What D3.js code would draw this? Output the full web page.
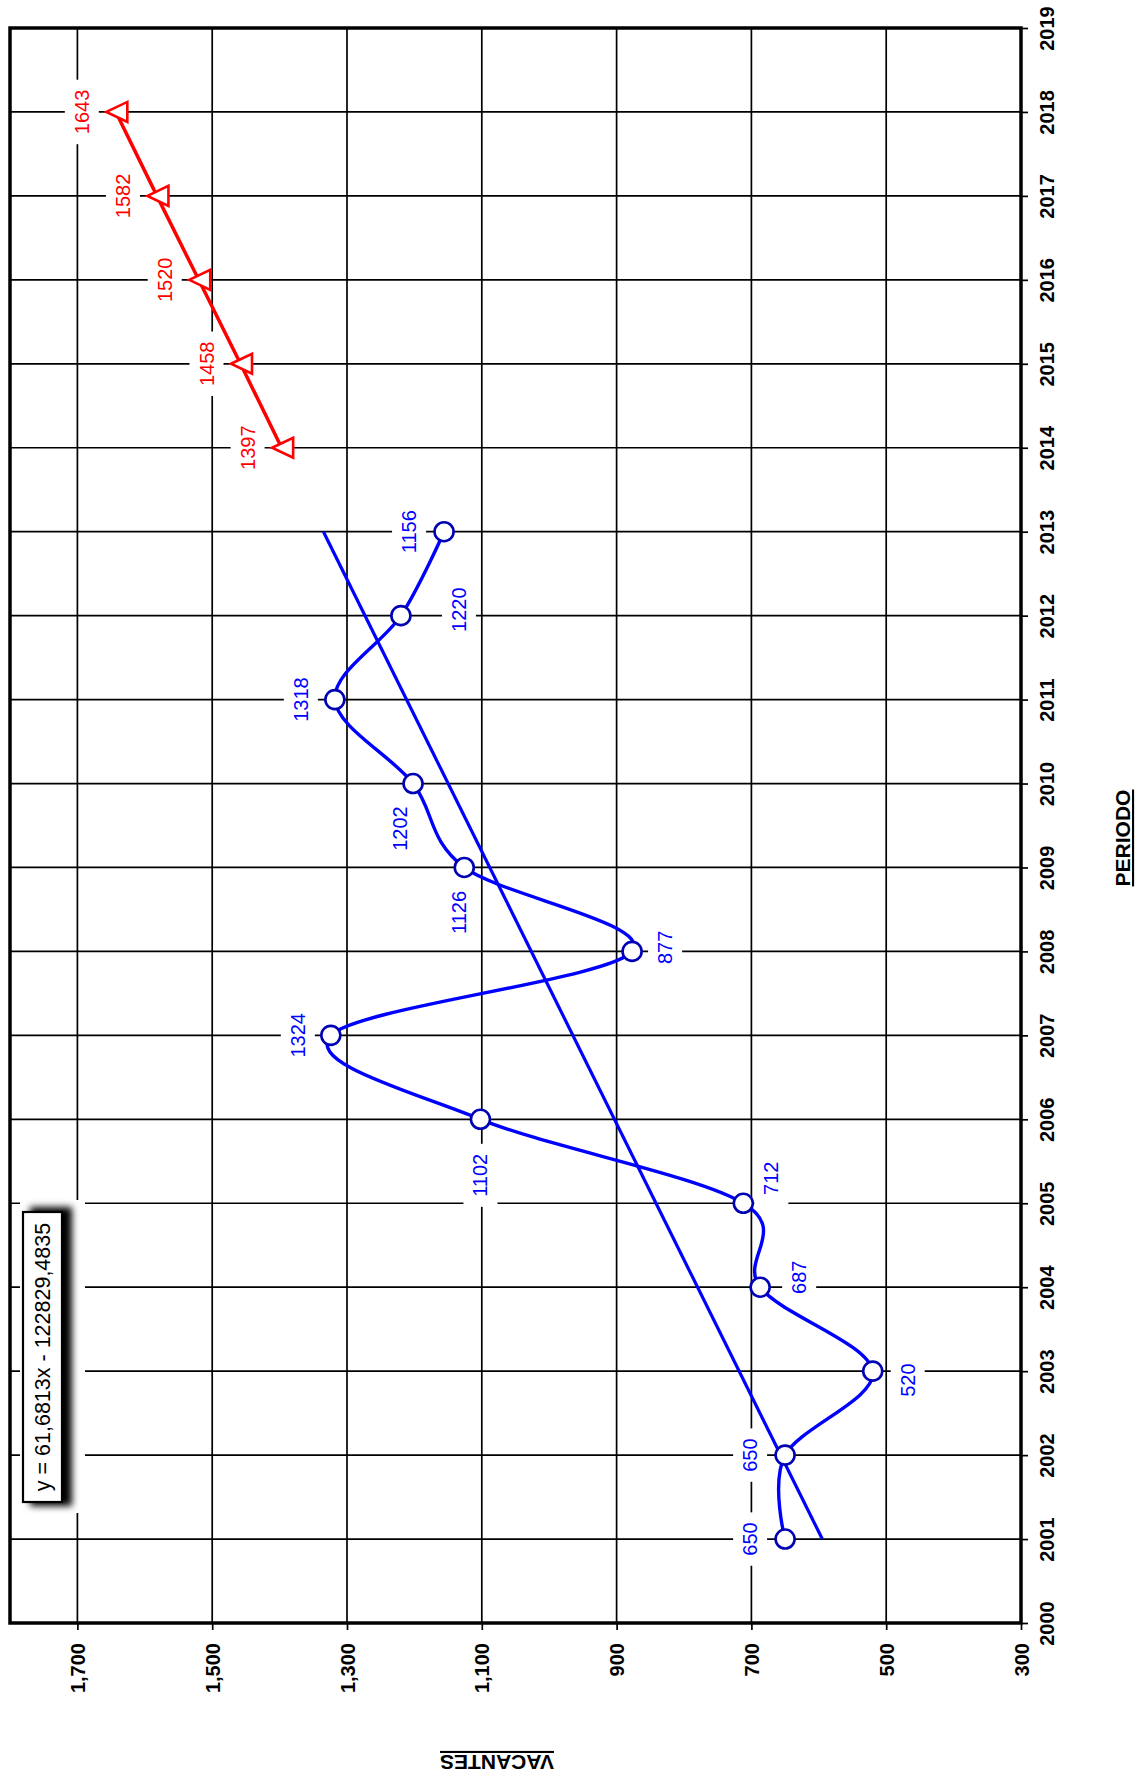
<!DOCTYPE html>
<html lang="es">
<head>
<meta charset="UTF-8">
<title>Vacantes por periodo</title>
<script src="https://d3js.org/d3.v7.min.js"></script>
<style>
  body { margin: 0; background: #fff; }
  svg { display: block; }
</style>
</head>
<body>
<div id="chart"></div>
<script>
// vacantes reales 2001-2013
var anios = [2001, 2002, 2003, 2004, 2005, 2006, 2007, 2008, 2009, 2010, 2011, 2012, 2013];
var vacantes = [650, 650, 520, 687, 712, 1102, 1324, 877, 1126, 1202, 1318, 1220, 1156];

// proyeccion 2014-2018
var aniosProy = [2014, 2015, 2016, 2017, 2018];
var vacantesProy = [1397, 1458, 1520, 1582, 1643];

// recta de tendencia (Excel)
var pendiente = 61.6813;
var intercepto = -122829.4835;
var ecuacion = "y = 61,6813x - 122829,4835";

// ejes
var ticksAnios = [2000, 2001, 2002, 2003, 2004, 2005, 2006, 2007, 2008, 2009,
                  2010, 2011, 2012, 2013, 2014, 2015, 2016, 2017, 2018, 2019];
var ticksVacantes = [300, 500, 700, 900, 1100, 1300, 1500, 1700];

// desplazamiento de las etiquetas (px en pantalla)
var desplReal = [[-35, 0], [-35, 0], [35, 9], [39, -10], [28, -25], [0, 56], [-33, 0],
                 [33, -4], [-5, 45], [-13, 45], [-34, 0], [58, -6], [-35, 0]];
var desplProy = [[-34, 0], [-34, 0], [-34, 0], [-34, 0], [-34, 0]];

var width = 1141, height = 1776;
var mIzq = 10, mDer = 1021, mSup = 28, mInf = 1623;
var narrow = "'Liberation Sans Narrow', 'Arial Narrow', sans-serif";
var azul = "#0000ff", azulMarca = "#0000b4", rojo = "#ff0000";

var svg = d3.select("#chart").append("svg")
    .attr("width", width)
    .attr("height", height);

// el grafico esta girado: vacantes en horizontal (crece a la izquierda), anios en vertical
var x = d3.scaleLinear().domain([300, 1800]).range([mDer, mIzq]);
var y = d3.scaleLinear().domain([2000, 2019]).range([mInf, mSup]);

var defs = svg.append("defs");
defs.append("filter").attr("id", "sombra")
    .attr("x", "-50%").attr("y", "-10%").attr("width", "200%").attr("height", "120%")
  .append("feGaussianBlur").attr("stdDeviation", 3.5);

// rejilla
svg.append("g").selectAll("line")
    .data(ticksVacantes)
    .enter().append("line")
    .attr("x1", function(d) { return x(d); })
    .attr("x2", function(d) { return x(d); })
    .attr("y1", mSup)
    .attr("y2", mInf)
    .attr("stroke", "#000")
    .attr("stroke-width", 1.7);

svg.append("g").selectAll("line")
    .data(ticksAnios)
    .enter().append("line")
    .attr("x1", mIzq)
    .attr("x2", mDer)
    .attr("y1", function(d) { return y(d); })
    .attr("y2", function(d) { return y(d); })
    .attr("stroke", "#000")
    .attr("stroke-width", 1.7);

var real = anios.map(function(a, i) { return { anio: a, v: vacantes[i], d: desplReal[i] }; });
var proy = aniosProy.map(function(a, i) { return { anio: a, v: vacantesProy[i], d: desplProy[i] }; });

// etiquetas con fondo blanco
var gFondos = svg.append("g");

// cuadro de la ecuacion
var gEc = svg.append("g");
gEc.append("rect").attr("x", 20).attr("y", 1200).attr("width", 65).attr("height", 313).attr("fill", "#fff");
gEc.append("rect").attr("x", 30).attr("y", 1207).attr("width", 42).attr("height", 299)
    .attr("fill", "#000").attr("filter", "url(#sombra)");
gEc.append("rect").attr("x", 23).attr("y", 1212).attr("width", 39).attr("height", 290)
    .attr("fill", "#fff").attr("stroke", "#000").attr("stroke-width", 2.2);
gEc.append("text")
    .attr("transform", "translate(42,1357) rotate(-90)")
    .attr("text-anchor", "middle")
    .attr("dy", "0.35em")
    .style("font-family", "'Liberation Sans', Arial, sans-serif")
    .style("font-size", "21.5px")
    .text(ecuacion);

var gSeries = svg.append("g");
var gEtiquetas = svg.append("g");

// tendencia
var tend = [anios[0], anios[anios.length - 1]].map(function(a) {
    return { anio: a, v: pendiente * a + intercepto };
});
var linea = d3.line()
    .x(function(d) { return x(d.v); })
    .y(function(d) { return y(d.anio); });

gSeries.append("path")
    .datum(tend)
    .attr("d", linea)
    .attr("fill", "none")
    .attr("stroke", azul)
    .attr("stroke-width", 3.2);

gSeries.append("path")
    .datum(real)
    .attr("d", linea.curve(d3.curveCardinal.tension(0)))
    .attr("fill", "none")
    .attr("stroke", azul)
    .attr("stroke-width", 3.4);

gSeries.append("path")
    .datum(proy)
    .attr("d", linea.curve(d3.curveLinear))
    .attr("fill", "none")
    .attr("stroke", rojo)
    .attr("stroke-width", 3.5);

gSeries.selectAll("circle")
    .data(real)
    .enter().append("circle")
    .attr("cx", function(d) { return x(d.v); })
    .attr("cy", function(d) { return y(d.anio); })
    .attr("r", 9.5)
    .attr("fill", "#fff")
    .attr("stroke", azulMarca)
    .attr("stroke-width", 2.6);

gSeries.selectAll("path.tri")
    .data(proy)
    .enter().append("path")
    .attr("class", "tri")
    .attr("transform", function(d) { return "translate(" + x(d.v) + "," + y(d.anio) + ")"; })
    .attr("d", "M-9.5,0L11.5,-10L11.5,10Z")
    .attr("fill", "#fff")
    .attr("stroke", rojo)
    .attr("stroke-width", 2.6);

function etiquetas(datos, color) {
    datos.forEach(function(d) {
        var cx = x(d.v) + d.d[0], cy = y(d.anio) + d.d[1];
        var t = gEtiquetas.append("text")
            .attr("transform", "translate(" + cx + "," + cy + ") rotate(-90)")
            .attr("text-anchor", "middle")
            .attr("dy", "0.35em")
            .attr("fill", color)
            .style("font-family", narrow)
            .style("font-size", "20px")
            .text(d.v);
        var largo = t.node().getComputedTextLength();
        gFondos.append("rect")
            .attr("x", cx - 17)
            .attr("y", cy - largo / 2 - 10)
            .attr("width", 34)
            .attr("height", largo + 20)
            .attr("fill", "#fff");
    });
}
etiquetas(real, azul);
etiquetas(proy, rojo);

// marco
svg.append("rect")
    .attr("x", mIzq).attr("y", mSup)
    .attr("width", mDer - mIzq).attr("height", mInf - mSup)
    .attr("fill", "none")
    .attr("stroke", "#000")
    .attr("stroke-width", 3.5);

// ejes
var ejeV = svg.append("g")
    .attr("transform", "translate(0," + mInf + ")")
    .call(d3.axisBottom(x).tickValues(ticksVacantes).tickFormat(d3.format(",")).tickSize(7));
ejeV.select(".domain").remove();
ejeV.selectAll("line").attr("stroke-width", 1.7);
ejeV.selectAll("text")
    .attr("transform", "rotate(-90)")
    .attr("x", -20).attr("y", 0).attr("dy", "0.35em")
    .attr("text-anchor", "end")
    .attr("fill", "#000")
    .style("font-family", narrow)
    .style("font-size", "20px")
    .style("font-weight", "bold");

var ejeA = svg.append("g")
    .attr("transform", "translate(" + mDer + ",0)")
    .call(d3.axisRight(y).tickValues(ticksAnios).tickFormat(d3.format("d")).tickSize(7));
ejeA.select(".domain").remove();
ejeA.selectAll("line").attr("stroke-width", 1.7);
ejeA.selectAll("text")
    .attr("transform", "rotate(-90)")
    .attr("x", 0).attr("y", 33).attr("dy", 0)
    .attr("text-anchor", "middle")
    .attr("fill", "#000")
    .style("font-family", narrow)
    .style("font-size", "20px")
    .style("font-weight", "bold");

// titulos
svg.append("text")
    .attr("transform", "translate(1130,838) rotate(-90)")
    .attr("text-anchor", "middle")
    .style("font-family", narrow)
    .style("font-size", "21px")
    .style("font-weight", "bold")
    .style("text-decoration", "underline")
    .text("PERIODO");

svg.append("text")
    .attr("transform", "translate(497,1755) rotate(180)")
    .attr("text-anchor", "middle")
    .style("font-family", narrow)
    .style("font-size", "21px")
    .style("font-weight", "bold")
    .style("text-decoration", "underline")
    .text("VACANTES");
</script>
</body>
</html>
